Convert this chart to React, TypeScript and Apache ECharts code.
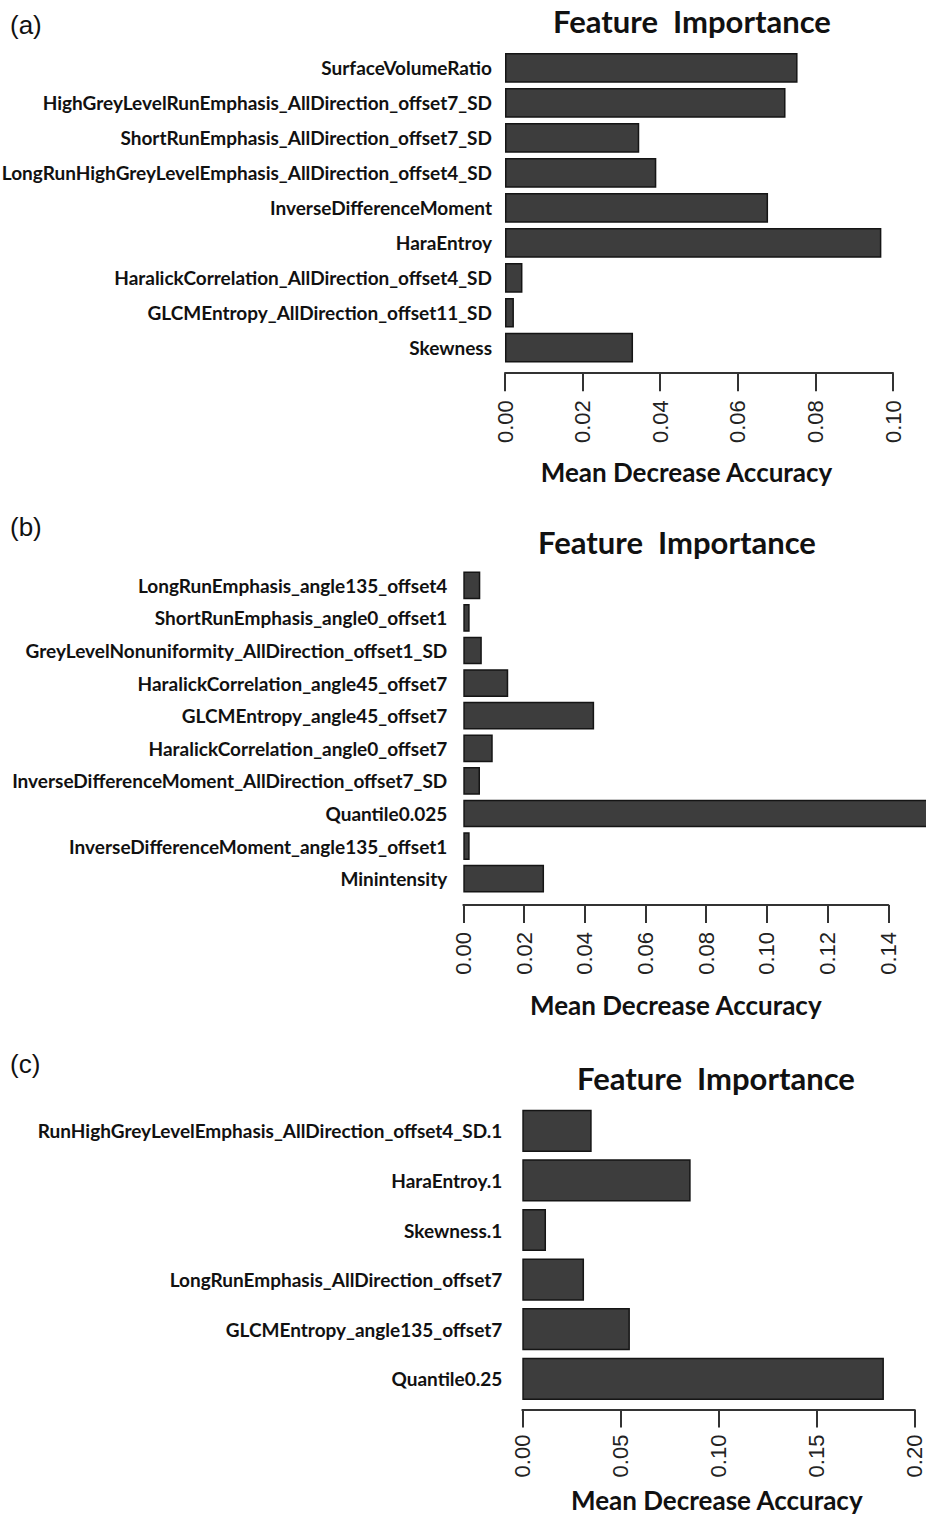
import React, { useEffect, useRef } from "react";
import * as echarts from "echarts";

const catsA = [
  "SurfaceVolumeRatio",
  "HighGreyLevelRunEmphasis_AllDirection_offset7_SD",
  "ShortRunEmphasis_AllDirection_offset7_SD",
  "LongRunHighGreyLevelEmphasis_AllDirection_offset4_SD",
  "InverseDifferenceMoment",
  "HaraEntroy",
  "HaralickCorrelation_AllDirection_offset4_SD",
  "GLCMEntropy_AllDirection_offset11_SD",
  "Skewness",
];
const valsA = [0.0754, 0.0723, 0.0346, 0.039, 0.0678, 0.097, 0.0045, 0.0023, 0.033];

const catsB = [
  "LongRunEmphasis_angle135_offset4",
  "ShortRunEmphasis_angle0_offset1",
  "GreyLevelNonuniformity_AllDirection_offset1_SD",
  "HaralickCorrelation_angle45_offset7",
  "GLCMEntropy_angle45_offset7",
  "HaralickCorrelation_angle0_offset7",
  "InverseDifferenceMoment_AllDirection_offset7_SD",
  "Quantile0.025",
  "InverseDifferenceMoment_angle135_offset1",
  "Minintensity",
];
const valsB = [0.0056, 0.0021, 0.0061, 0.0148, 0.0431, 0.0097, 0.0055, 0.155, 0.0021, 0.0266];

const catsC = [
  "RunHighGreyLevelEmphasis_AllDirection_offset4_SD.1",
  "HaraEntroy.1",
  "Skewness.1",
  "LongRunEmphasis_AllDirection_offset7",
  "GLCMEntropy_angle135_offset7",
  "Quantile0.25",
];
const valsC = [0.0354, 0.0859, 0.0121, 0.0315, 0.0549, 0.1845];

const panelLabels = ["(a)", "(b)", "(c)"];
const titleText = "Feature  Importance";
const axisTitle = "Mean Decrease Accuracy";

const CAT_FONT = "Lato, 'Liberation Sans', sans-serif";
const HEAD_FONT = "Lato, 'Liberation Sans', sans-serif";
const MAIN_FONT = "'Liberation Sans', Arial, sans-serif";

export default function App() {
  const ref = useRef<HTMLDivElement>(null);
  useEffect(() => {
    if (!ref.current) return;
    const chart = echarts.init(ref.current, null, { renderer: "svg" });

    const grids = [
      { left: 505, right: 33, top: 50.5, height: 314.7 },
      { left: 463.3, right: 37.7, top: 569, height: 326 },
      { left: 522.3, right: 11.7, top: 1106, height: 297.6 },
    ];
    const xCfg = [
      { max: 0.1, interval: 0.02, offset: 8, nameGap: 85.5, margin: 27, pad: [0, 25, 0, 0] },
      { max: 0.14, interval: 0.02, offset: 10, nameGap: 86.5, margin: 27, pad: [0, 0, 0, 0] },
      { max: 0.2, interval: 0.05, offset: 6, nameGap: 77, margin: 25, pad: [0, 3, 0, 0] },
    ];
    const cats = [catsA, catsB, catsC];
    const vals = [valsA, valsB, valsC];
    const catMargins = [13, 16, 20];
    const titleCenters = [
      { x: 692, y: 5 },
      { x: 677, y: 526 },
      { x: 716, y: 1062 },
    ];
    const labelTops = [12, 514, 1051];

    const option: any = {
      animation: false,
      backgroundColor: "#ffffff",
      title: titleCenters.map((t) => ({
        text: titleText,
        left: t.x,
        top: t.y,
        textAlign: "center",
        padding: 0,
        textStyle: {
          fontFamily: HEAD_FONT,
          fontSize: 31,
          fontWeight: "bold",
          color: "#111",
        },
      })),
      graphic: panelLabels.map((p, i) => ({
        type: "text",
        left: 10,
        top: labelTops[i],
        style: {
          text: p,
          font: `26px ${MAIN_FONT}`,
          fill: "#111",
        },
      })),
      grid: grids.map((g) => ({ ...g, outerBoundsMode: "none", containLabel: false })),
      xAxis: xCfg.map((c, i) => ({
        type: "value",
        gridIndex: i,
        min: 0,
        max: c.max,
        interval: c.interval,
        offset: c.offset,
        name: axisTitle,
        nameLocation: "middle",
        nameGap: c.nameGap,
        nameTextStyle: {
          fontFamily: HEAD_FONT,
          fontSize: 26,
          fontWeight: "bold",
          color: "#111",
          padding: c.pad,
        },
        axisLine: { show: true, lineStyle: { color: "#333", width: 2 } },
        axisTick: { show: true, length: 18, lineStyle: { color: "#333", width: 2 } },
        splitLine: { show: false },
        axisLabel: {
          rotate: 90,
          margin: c.margin,
          fontFamily: MAIN_FONT,
          fontSize: 22,
          color: "#222",
          formatter: (v: number) => v.toFixed(2),
        },
      })),
      yAxis: cats.map((cs, i) => ({
        type: "category",
        gridIndex: i,
        data: cs,
        inverse: true,
        axisLine: { show: false },
        axisTick: { show: false },
        axisLabel: {
          interval: 0,
          margin: catMargins[i],
          fontFamily: CAT_FONT,
          fontSize: 19,
          fontWeight: "bold",
          color: "#111",
        },
      })),
      series: vals.map((vs, i) => ({
        type: "bar",
        xAxisIndex: i,
        yAxisIndex: i,
        data: vs,
        barCategoryGap: "15%",
        clip: false,
        itemStyle: { color: "#3d3d3d", borderColor: "#151515", borderWidth: 1.5 },
      })),
    };
    chart.setOption(option);
    return () => chart.dispose();
  }, []);
  return (
    <div
      ref={ref}
      style={{ position: "absolute", left: 0, top: 0, width: 926, height: 1516 }}
    />
  );
}
